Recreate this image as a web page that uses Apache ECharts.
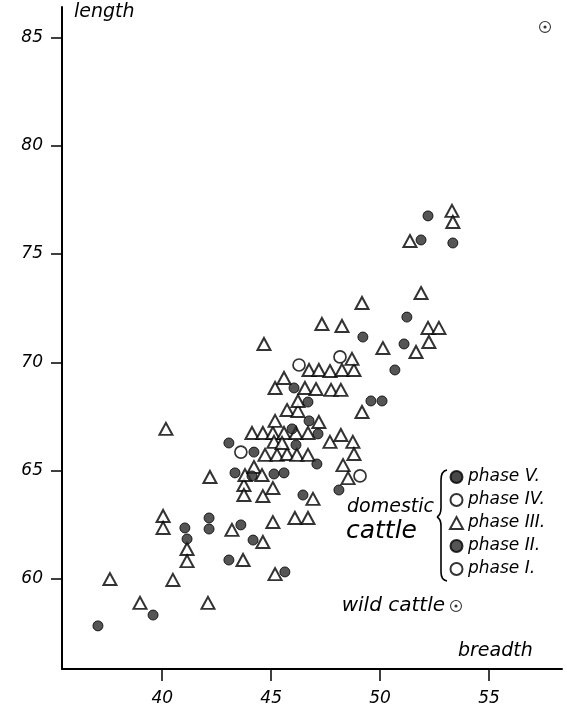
<!DOCTYPE html>
<html>
<head>
<meta charset="utf-8">
<script src="https://cdn.jsdelivr.net/npm/echarts@6/dist/echarts.min.js"></script>
<style>
  html, body { margin: 0; padding: 0; background: #fff; }
  #chart { width: 567px; height: 715px; }
</style>
</head>
<body>
<div id="chart"></div>
<script>
// Tick positions on each axis
const breadthTicks = [40, 45, 50, 55];
const lengthTicks = [60, 65, 70, 75, 80, 85];

// [breadth, length] measurements per group
const phaseV = [];
const phaseIV = [
  [43.61, 65.86], [46.28, 69.88], [48.16, 70.25], [49.08, 64.76]
];
const phaseIII = [
  [37.60, 60.00], [38.98, 58.90], [40.49, 59.96], [42.10, 58.90],
  [40.04, 62.91], [40.04, 62.36], [41.14, 61.39], [41.14, 60.83],
  [40.17, 66.93], [42.19, 64.71], [43.20, 62.27], [43.71, 60.88],
  [44.62, 61.71], [45.18, 60.23], [45.08, 62.63], [43.75, 64.34],
  [43.75, 63.88], [44.62, 63.83], [45.08, 64.20], [43.80, 64.80],
  [44.21, 65.17], [44.58, 64.80], [46.09, 62.82], [46.69, 62.82],
  [46.92, 63.70], [44.72, 65.73], [45.27, 65.73], [45.73, 65.77],
  [46.18, 65.73], [46.69, 65.73], [44.12, 66.74], [44.62, 66.74],
  [45.08, 66.74], [45.59, 66.74], [46.14, 66.74], [46.69, 66.74],
  [45.13, 66.33], [45.50, 66.28], [45.18, 67.30], [47.19, 67.25],
  [45.73, 67.80], [46.23, 67.76], [46.23, 68.22], [45.18, 68.82],
  [46.55, 68.82], [47.06, 68.77], [47.75, 68.73], [48.20, 68.73],
  [45.59, 69.28], [46.74, 69.65], [47.19, 69.65], [47.70, 69.60],
  [48.25, 69.65], [48.80, 69.65], [48.71, 70.16], [44.67, 70.85],
  [47.33, 71.77], [48.25, 71.68], [49.17, 72.74], [49.17, 67.71],
  [47.70, 66.33], [48.20, 66.65], [48.75, 66.33], [48.80, 65.77],
  [48.30, 65.26], [48.53, 64.66], [50.13, 70.66], [51.65, 70.48],
  [52.24, 70.94], [52.20, 71.59], [52.70, 71.59], [51.88, 73.20],
  [51.37, 75.60], [53.30, 76.99], [53.34, 76.48]
];
const phaseII = [
  [37.05, 57.84], [39.58, 58.34], [41.04, 62.36], [41.14, 61.85],
  [42.15, 62.82], [42.15, 62.31], [43.61, 62.50], [43.06, 60.88],
  [44.17, 61.80], [45.63, 60.33], [43.06, 66.28], [44.21, 65.86],
  [43.34, 64.90], [44.12, 64.76], [45.13, 64.85], [45.59, 64.90],
  [46.14, 66.19], [45.96, 66.93], [46.74, 67.30], [47.15, 66.70],
  [47.10, 65.31], [46.46, 63.88], [48.11, 64.11], [46.05, 68.82],
  [46.69, 68.17], [49.21, 71.17], [49.58, 68.22], [50.09, 68.22],
  [50.68, 69.65], [51.10, 70.85], [51.23, 72.09], [51.88, 75.65],
  [52.20, 76.76], [53.34, 75.51]
];
const phaseI = [];
const wildCattle = [[57.57, 85.48]];

const INK = '#000';
const FONT = '"DejaVu Sans", sans-serif';

// open ring with a centre dot (outer ring clockwise, inner hole counter-clockwise)
const ringDot = 'path://M0,-10A10,10 0 1,1 0,10A10,10 0 1,1 0,-10Z' +
  'M0,-8.2A8.2,8.2 0 1,0 0,8.2A8.2,8.2 0 1,0 0,-8.2Z' +
  'M0,-2.6A2.6,2.6 0 1,1 0,2.6A2.6,2.6 0 1,1 0,-2.6Z';

const chart = echarts.init(document.getElementById('chart'), null, { renderer: 'canvas' });

const braceStyle = { fill: 'none', stroke: INK, lineWidth: 1.6 };

// brace joining the domestic phases, built from short segments
const brace = [
  { type: 'bezierCurve', shape: { x1: 447, y1: 470, cpx1: 441, cpy1: 471, x2: 441, y2: 480 } },
  { type: 'line', shape: { x1: 441, y1: 480, x2: 441, y2: 508 } },
  { type: 'bezierCurve', shape: { x1: 441, y1: 508, cpx1: 441, cpy1: 515, x2: 437, y2: 517 } },
  { type: 'bezierCurve', shape: { x1: 437, y1: 517, cpx1: 441, cpy1: 519, x2: 441, y2: 526 } },
  { type: 'line', shape: { x1: 441, y1: 526, x2: 441, y2: 572 } },
  { type: 'bezierCurve', shape: { x1: 441, y1: 572, cpx1: 441, cpy1: 580, x2: 447, y2: 581 } }
].map(function (el) { el.style = braceStyle; el.silent = true; return el; });

chart.setOption({
  backgroundColor: '#fff',
  animation: false,
  grid: { left: 62, right: 5, top: 7, bottom: 46, containLabel: false },
  xAxis: {
    type: 'value',
    min: 35.4,
    max: 58.35,
    axisLine: { show: true, onZero: false, lineStyle: { color: INK, width: 2 } },
    axisTick: { show: true, customValues: breadthTicks, length: 12, lineStyle: { color: INK, width: 1.5 } },
    axisLabel: {
      customValues: breadthTicks, margin: 21, color: INK,
      fontFamily: FONT, fontStyle: 'italic', fontSize: 17
    },
    splitLine: { show: false }
  },
  yAxis: {
    type: 'value',
    min: 55.85,
    max: 86.4,
    axisLine: { show: true, onZero: false, lineStyle: { color: INK, width: 2 } },
    axisTick: { show: true, customValues: lengthTicks, length: 11, lineStyle: { color: INK, width: 1.5 } },
    axisLabel: {
      customValues: lengthTicks, margin: 19, color: INK,
      fontFamily: FONT, fontStyle: 'italic', fontSize: 17
    },
    splitLine: { show: false }
  },
  legend: [
    {
      data: ['phase V.', 'phase IV.', 'phase III.', 'phase II.', 'phase I.'],
      orient: 'vertical',
      left: 449,
      top: 468,
      padding: 0,
      itemWidth: 13,
      itemHeight: 12,
      itemGap: 5,
      selectedMode: false,
      textStyle: { color: INK, fontFamily: FONT, fontStyle: 'italic', fontSize: 17, lineHeight: 18 }
    },
    {
      data: ['wild cattle'],
      orient: 'vertical',
      align: 'right',
      right: 105,
      top: 596,
      padding: 0,
      itemWidth: 12,
      itemHeight: 12,
      itemGap: 6,
      selectedMode: false,
      textStyle: { color: INK, fontFamily: FONT, fontStyle: 'italic', fontSize: 20, lineHeight: 20 }
    }
  ],
  graphic: [
    {
      type: 'text', left: 74, top: 3, silent: true,
      style: { text: 'length', fill: INK, font: 'italic 19px "DejaVu Sans", sans-serif' }
    },
    {
      type: 'text', left: 458, top: 642, silent: true,
      style: { text: 'breadth', fill: INK, font: 'italic 19px "DejaVu Sans", sans-serif' }
    },
    {
      type: 'text', left: 347, top: 498, silent: true,
      style: { text: 'domestic', fill: INK, font: 'italic 19px "DejaVu Sans", sans-serif' }
    },
    {
      type: 'text', left: 346, top: 519, silent: true,
      style: { text: 'cattle', fill: INK, font: 'italic 25px "DejaVu Sans", sans-serif' }
    }
  ].concat(brace),
  series: [
    {
      name: 'phase V.', type: 'scatter', data: phaseV,
      symbol: 'circle', symbolSize: 9,
      itemStyle: { color: '#1a1a1a', borderColor: INK, borderWidth: 1 }
    },
    {
      name: 'phase IV.', type: 'scatter', data: phaseIV, z: 3,
      symbol: 'circle', symbolSize: 12,
      itemStyle: { color: '#fff', borderColor: INK, borderWidth: 1.7 }
    },
    {
      name: 'phase III.', type: 'scatter', data: phaseIII, z: 2,
      symbol: 'triangle', symbolSize: [13, 12],
      itemStyle: { color: '#fff', borderColor: INK, borderWidth: 2 }
    },
    {
      name: 'phase II.', type: 'scatter', data: phaseII, z: 4,
      symbol: 'circle', symbolSize: 10,
      itemStyle: { color: '#2a2a2a', borderColor: INK, borderWidth: 1 }
    },
    {
      name: 'phase I.', type: 'scatter', data: phaseI,
      symbol: 'circle', symbolSize: 9,
      itemStyle: { color: '#fff', borderColor: INK, borderWidth: 1.4 }
    },
    {
      name: 'wild cattle', type: 'scatter', data: wildCattle,
      symbol: ringDot, symbolSize: 12,
      itemStyle: { color: INK }
    }
  ]
});
</script>
</body>
</html>
